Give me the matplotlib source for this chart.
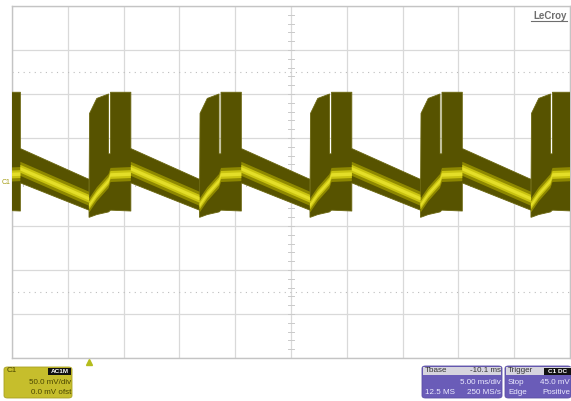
import numpy as np
import matplotlib.pyplot as plt
from matplotlib.patches import FancyBboxPatch, Rectangle

W, H = 571, 401

# screen setup: 5 ms/div x 10 div, 50 mV/div x 8 div
ms_per_div = 5.0
mv_per_div = 50.0
n_xdiv, n_ydiv = 10, 8

# burst start times on screen (ms)
burst_starts = [-3.0, 6.9, 16.8, 26.7, 36.6, 46.5]

# one cycle of the trace envelope, times in ms after each burst start
cyc_t      = [0.0, 0.05, 0.7, 1.75, 1.75, 1.93, 1.93, 3.75, 3.75, 9.9]
cyc_top    = [-30, 78, 95, 100, 32, 32, 102, 102, 38, 3]
cyc_bottom = [-40, -40, -37, -34, -34, -32, -32, -33, -1, -32]
cyc_band   = [-26, -26, -14, 1, 1, 8, 8, 9, 15, -19]

trigger_time = 6.9
marker_levels = [125, -125]

# readout boxes
ch_lines = ["50.0 mV/div", "0.0 mV ofst"]
tbase_head = ["Tbase", "-10.1 ms"]
tbase_lines = [("", "5.00 ms/div"), ("12.5 MS", "250 MS/s")]
trig_lines = [("Stop", "45.0 mV"), ("Edge", "Positive")]

plt.rcParams['font.family'] = ['Liberation Sans', 'DejaVu Sans']

fig = plt.figure(figsize=(W / 100, H / 100), dpi=100)
fig.patch.set_facecolor('white')


def fx(x):
    return x / W


def fy(y):
    return 1 - y / H


ax = fig.add_axes([fx(12), fy(358), (570 - 12) / W, (358 - 6) / H])
ax.set_xlim(0, n_xdiv * ms_per_div)
ax.set_ylim(-n_ydiv / 2 * mv_per_div, n_ydiv / 2 * mv_per_div)
ax.set_axisbelow(True)

# graticule
ax.set_xticks(np.arange(0, n_xdiv + 1) * ms_per_div)
ax.set_yticks(np.arange(-n_ydiv / 2, n_ydiv / 2 + 1) * mv_per_div)
ax.grid(True, color='#d9d9d9', lw=0.9)
ax.tick_params(length=0, labelbottom=False, labelleft=False)
for s in ax.spines.values():
    s.set_color('#c4c4c4')
    s.set_linewidth(1.0)

# minor ticks on the centre cross
xc = n_xdiv / 2 * ms_per_div
for v in np.arange(-200, 201, 10):
    ax.plot([xc - 0.25, xc + 0.25], [v, v], color='#cacaca', lw=0.7, zorder=1)
for t in np.arange(0, 50.1, 1.0):
    ax.plot([t, t], [-5, 5], color='#cacaca', lw=0.7, zorder=1)

for lv in marker_levels:
    ax.axhline(lv, color='#bdbdbd', lw=0.8, ls=(0, (1, 4)), zorder=1)

# build the trace envelope from the cycles
t = np.concatenate([s + np.array(cyc_t) for s in burst_starts])
top = np.tile(cyc_top, len(burst_starts))
bottom = np.tile(cyc_bottom, len(burst_starts))
band = np.tile(cyc_band, len(burst_starts)).astype(float)

ax.fill_between(t, bottom, top, color='#575300', lw=0.6, edgecolor='#6b6710',
                zorder=3)
ax.fill_between(t, band - 8, band + 8, color='#8e8800', lw=0, zorder=4)
ax.fill_between(t, band - 4.5, band + 4.5, color='#c8c210', lw=0, zorder=4)
ax.fill_between(t, band - 2, band + 2, color='#e4de28', lw=0, zorder=4)

# trigger position marker
ax.plot([trigger_time], [-205], marker='^', ms=4.5, color='#b4bc1c',
        clip_on=False, zorder=5)

# channel label on the left edge
fig.text(fx(2), fy(183), "C1", fontsize=5, color='#a49c10', va='center')

# LeCroy logo
fig.text(fx(567), fy(16), "LeCroy", fontsize=7, fontweight='bold',
         color='#6e6e6e', ha='right', va='center')
fig.add_artist(plt.Line2D([fx(531), fx(567)], [fy(21), fy(21)],
                          color='#6e6e6e', lw=0.8))

fs = 5.8

# channel readout
fig.patches.append(FancyBboxPatch((fx(4), fy(398)), fx(68), fy(367) - fy(398),
                                  boxstyle='round,pad=0,rounding_size=0.006',
                                  transform=fig.transFigure,
                                  facecolor='#c6be2c', edgecolor='#a8a020', lw=0.6))
fig.text(fx(7), fy(371), "C1", fontsize=fs, color='#4a4600', va='center')
fig.patches.append(Rectangle((fx(48), fy(375)), fx(23), fy(368) - fy(375),
                             transform=fig.transFigure, facecolor='#111111'))
fig.text(fx(59.5), fy(371.5), "AC1M", fontsize=4.6, color='white',
         ha='center', va='center', fontweight='bold')
for i, s in enumerate(ch_lines):
    fig.text(fx(71), fy(382 + 11 * i), s, fontsize=fs, color='#4a4600',
             ha='right', va='center')

# timebase readout
fig.patches.append(FancyBboxPatch((fx(422), fy(398)), fx(80), fy(366) - fy(398),
                                  boxstyle='round,pad=0,rounding_size=0.006',
                                  transform=fig.transFigure,
                                  facecolor='#6a5cb8', edgecolor='#5a4ea4', lw=0.6))
fig.patches.append(Rectangle((fx(423), fy(375)), fx(78), fy(367) - fy(375),
                             transform=fig.transFigure, facecolor='#d6d4de'))
fig.text(fx(425), fy(371), tbase_head[0], fontsize=fs, color='#333333', va='center')
fig.text(fx(501), fy(371), tbase_head[1], fontsize=fs, color='#333333',
         va='center', ha='right')
for i, (l, r) in enumerate(tbase_lines):
    yy = fy(382 + 10 * i)
    fig.text(fx(425), yy, l, fontsize=fs, color='#ecebff', va='center')
    fig.text(fx(501), yy, r, fontsize=fs, color='#ecebff', va='center', ha='right')

# trigger readout
fig.patches.append(FancyBboxPatch((fx(505), fy(398)), fx(66), fy(366) - fy(398),
                                  boxstyle='round,pad=0,rounding_size=0.006',
                                  transform=fig.transFigure,
                                  facecolor='#6a5cb8', edgecolor='#5a4ea4', lw=0.6))
fig.patches.append(Rectangle((fx(506), fy(375)), fx(65), fy(367) - fy(375),
                             transform=fig.transFigure, facecolor='#d6d4de'))
fig.text(fx(508), fy(371), "Trigger", fontsize=fs, color='#333333', va='center')
fig.patches.append(Rectangle((fx(544), fy(375)), fx(27), fy(368) - fy(375),
                             transform=fig.transFigure, facecolor='#111111'))
fig.text(fx(557.5), fy(371.5), "C1 DC", fontsize=4.6, color='white',
         ha='center', va='center', fontweight='bold')
for i, (l, r) in enumerate(trig_lines):
    yy = fy(382 + 10 * i)
    fig.text(fx(508), yy, l, fontsize=fs, color='#ecebff', va='center')
    fig.text(fx(570), yy, r, fontsize=fs, color='#ecebff', va='center', ha='right')

fig.savefig('out.png', dpi=100, facecolor='white')
